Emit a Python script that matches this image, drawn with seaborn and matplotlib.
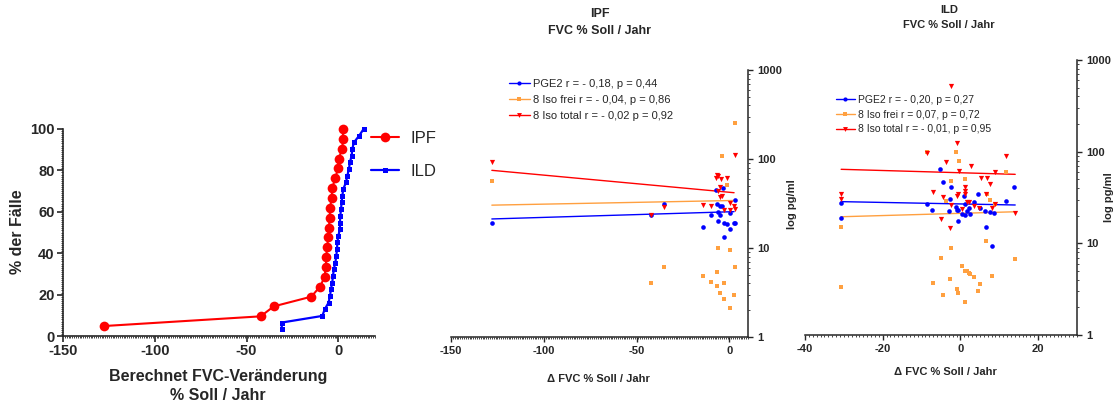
import numpy as np
import pandas as pd
import matplotlib
matplotlib.use("Agg")
import matplotlib.pyplot as plt
import seaborn as sns
from matplotlib.lines import Line2D
from matplotlib.ticker import MultipleLocator, LogLocator, NullFormatter, FixedLocator, FixedFormatter

# ---------------- data ----------------
# Panel 1: cumulative distribution of FVC change
cdf_ipf_x = [-127.9, -42.3, -35.2, -14.7, -10.0, -7.4, -6.9, -6.5, -6.2, -5.4, -5.1,
             -4.7, -4.5, -3.6, -3.4, -1.6, -0.2, 0.2, 2.2, 2.5, 2.5]
cdf_ipf_y = [4.8, 9.5, 14.3, 19.0, 23.8, 28.6, 33.3, 38.1, 42.9, 47.6, 52.4,
             57.1, 61.9, 66.7, 71.4, 76.2, 81.0, 85.7, 90.5, 95.2, 100.0]
cdf_ild_x = [-30.8, -30.8, -8.7, -7.4, -5.3, -4.5, -4.0, -3.3, -2.9, -2.4, -1.6,
             -1.1, -0.7, -0.5, 0.0, 0.9, 0.9, 1.1, 1.5, 1.8, 2.2, 2.7, 4.2, 4.9,
             5.8, 6.3, 7.3, 7.6, 8.5, 11.4, 13.8]
cdf_ild_y = [3.2, 6.5, 9.7, 12.9, 16.1, 19.4, 22.6, 25.8, 29.0, 32.3, 35.5,
             38.7, 41.9, 45.2, 48.4, 51.6, 54.8, 58.1, 61.3, 64.5, 67.7, 71.0,
             74.2, 77.4, 80.6, 83.9, 87.1, 90.3, 93.5, 96.8, 100.0]

# Panel 2: IPF
ipf_pge2_x = [-128, -42.2, -35.1, -14.4, -9.7, -7.2, -6.7, -6.3, -6.0, -5.2, -5.1,
              -4.2, -3.6, -2.9, -2.9, -1.4, 0.5, 0.5, 2.3, 2.9, 2.9]
ipf_pge2_y = [19.0, 23.4, 31.5, 17.3, 23.4, 44.3, 31.6, 20.0, 25.5, 29.8, 23.5,
              29.8, 47.0, 19.2, 13.3, 18.5, 16.3, 25.0, 19.0, 19.0, 35.0]
ipf_frei_x = [-128, -42.2, -35.0, -14.4, -9.7, -6.9, -6.7, -6.0, -5.2, -4.2, -2.9,
              -2.9, -1.4, 0.5, 0.5, 2.3, 2.9, 2.9]
ipf_frei_y = [56.9, 4.0, 6.1, 4.8, 4.2, 5.4, 3.7, 9.9, 3.1, 108, 4.0,
              2.7, 50.8, 9.4, 2.1, 3.0, 6.1, 255]
ipf_total_x = [-128, -42.2, -35.0, -14.4, -9.7, -7.2, -6.5, -6.3, -6.0, -5.2, -5.1,
               -4.5, -4.2, -2.9, -1.4, 0.5, 0.5, 2.3, 2.9, 2.9]
ipf_total_y = [93, 23.2, 29.0, 30.8, 29.5, 60.4, 65.3, 43.9, 65.0, 37.6, 48.3,
               59.8, 38.2, 26.8, 60.4, 31.9, 27.0, 29.8, 27.2, 110]
ipf_fit_x = [-128, 2.5]
ipf_fit_pge2 = [21.2, 25.6]
ipf_fit_frei = [30.3, 34.2]
ipf_fit_total = [74.6, 41.8]
ipf_labels = ["PGE2 r = - 0,18, p = 0,44",
              "8 Iso frei r = - 0,04, p = 0,86",
              "8 Iso total r = - 0,02 p = 0,92"]

# Panel 3: ILD
ild_pge2_x = [-30.8, -30.7, -8.5, -7.2, -5.3, -4.5, -2.9, -2.7, -2.5, -1.2, -0.9,
              -0.5, -0.7, 0.3, 1.1, 1.2, 1.0, 1.8, 2.3, 2.4, 3.4, 4.4, 5.1, 6.4,
              6.7, 7.5, 8.2, 8.7, 11.6, 13.9]
ild_pge2_y = [27.3, 18.8, 26.7, 23.1, 64.2, 46.7, 22.7, 30.2, 41.5, 24.7, 23.1,
              23.1, 17.7, 20.7, 20.4, 26.7, 33.1, 22.7, 24.3, 20.7, 28.5, 34.3, 24.1, 22.4,
              15.2, 22.0, 9.4, 21.6, 28.7, 40.9]
ild_frei_x = [-30.7, -30.7, -8.5, -7.1, -5.1, -4.4, -3.8, -2.8, -2.5, -2.3, -1.0,
              -0.6, -1.1, -0.4, 0.5, 1.1, 1.3, 1.2, 1.8, 2.3, 2.4, 3.5, 4.5, 5.1,
              6.5, 6.9, 7.7, 8.2, 8.9, 11.8, 14.1]
ild_frei_y = [15, 3.3, 98, 3.7, 7.0, 2.7, 29.2, 4.1, 8.9, 47.9, 3.2,
              2.9, 99, 79, 5.7, 5.0, 2.3, 50, 5.0, 4.8, 4.6, 4.3, 3.0, 3.6,
              10.7, 34.2, 29.5, 4.4, 26.6, 60.5, 6.8]
ild_total_x = [-30.7, -30.7, -8.5, -7.1, -5.1, -4.4, -3.8, -2.8, -2.5, -2.3, -1.0,
               -0.9, -0.6, -0.4, 0.5, 1.2, 1.2, 1.3, 1.8, 2.3, 2.6, 3.5, 4.7, 5.3,
               6.6, 6.9, 7.7, 8.2, 8.9, 8.9, 11.8, 14.1]
ild_total_y = [34.5, 30.7, 96, 36, 18.3, 32.3, 76.5, 14.7, 26.2, 525, 123,
               32.6, 34.8, 61, 23.5, 40.8, 34.5, 37.6, 28, 28, 69, 25.3, 24.5, 51.2,
               34.5, 52, 44, 24.3, 26.6, 60.5, 89, 21.4]
ild_fit_x = [-30.7, 14.1]
ild_fit_pge2 = [28.5, 26.2]
ild_fit_frei = [19.5, 22.1]
ild_fit_total = [64.2, 56.6]
ild_labels = ["PGE2 r = - 0,20, p = 0,27",
              "8 Iso frei r = 0,07, p = 0,72",
              "8 Iso total r = - 0,01, p = 0,95"]

# ---------------- style ----------------
sns.set_style("ticks")
plt.rcParams['font.family'] = ['Liberation Sans', 'DejaVu Sans']
plt.rcParams['axes.unicode_minus'] = False
NARROW = ['Liberation Sans Narrow', 'Liberation Sans', 'DejaVu Sans']

RED = '#FF0000'
BLUE = '#0000FF'
ORANGE = '#FFA040'
W, H = 1115, 409

fig = plt.figure(figsize=(W / 100, H / 100), dpi=100)

def fx(px):
    return px / W

def fy(py):
    return 1 - py / H

ax1 = fig.add_axes([fx(63), fy(336), 312 / W, 207 / H])
ax2 = fig.add_axes([fx(451), fy(337), 297 / W, 267 / H])
ax3 = fig.add_axes([fx(805), fy(335), 272 / W, 275 / H])

# ---------------- panel 1 ----------------
df_ipf = pd.DataFrame({'x': cdf_ipf_x, 'y': cdf_ipf_y})
df_ild = pd.DataFrame({'x': cdf_ild_x, 'y': cdf_ild_y})
sns.lineplot(data=df_ild, x='x', y='y', ax=ax1, color=BLUE, lw=1.6, marker='s',
             markersize=3.6, markeredgewidth=0, sort=False, estimator=None, clip_on=False)
sns.lineplot(data=df_ipf, x='x', y='y', ax=ax1, color=RED, lw=1.5, marker='o',
             markersize=7, markeredgewidth=0, sort=False, estimator=None, clip_on=False)
ax1.set_xlim(-150, 20)
ax1.set_ylim(0, 100)
ax1.set_xticks([-150, -100, -50, 0])
ax1.set_yticks([0, 20, 40, 60, 80, 100])
ax1.xaxis.set_minor_locator(MultipleLocator(1))
ax1.yaxis.set_minor_locator(MultipleLocator(1))
ax1.set_xlabel('')
ax1.set_ylabel('')
for s in ['top', 'right']:
    ax1.spines[s].set_visible(False)
for s in ['left', 'bottom']:
    ax1.spines[s].set_linewidth(1.2)
ax1.tick_params(axis='both', which='major', length=4, width=1.2, labelsize=10.5, pad=2)
ax1.tick_params(axis='both', which='minor', length=1.5, width=0.6)
for lab in ax1.get_xticklabels() + ax1.get_yticklabels():
    lab.set_fontweight('bold')

fig.text(fx(18), fy(232), '% der Fälle', rotation=90, ha='center', va='center',
         fontsize=11.5, fontweight='bold')
fig.text(fx(218), fy(377), 'Berechnet FVC-Veränderung', ha='center', va='center',
         fontsize=11.5, fontweight='bold')
fig.text(fx(218), fy(395), '% Soll / Jahr', ha='center', va='center',
         fontsize=11.5, fontweight='bold')

h1 = [Line2D([], [], color=RED, lw=1.5, marker='o', ms=7, mew=0),
      Line2D([], [], color=BLUE, lw=1.6, marker='s', ms=3.6, mew=0)]
fig.legend(h1, ['IPF', 'ILD'], loc='upper left', bbox_to_anchor=(fx(371), fy(131)),
           frameon=False, fontsize=12, handlelength=1.7, handletextpad=0.7,
           labelspacing=1.05, borderpad=0, borderaxespad=0)

# ---------------- scatter panels ----------------
def scatter_panel(ax, pge2_x, pge2_y, frei_x, frei_y, total_x, total_y,
                  fit_x, fit_pge2, fit_frei, fit_total, xlim, xticks):
    sns.scatterplot(x=frei_x, y=frei_y, ax=ax, color=ORANGE, marker='s', s=9,
                    linewidth=0, zorder=3)
    sns.scatterplot(x=pge2_x, y=pge2_y, ax=ax, color=BLUE, marker='o', s=11,
                    linewidth=0, zorder=4)
    sns.scatterplot(x=total_x, y=total_y, ax=ax, color=RED, marker='v', s=14,
                    linewidth=0, zorder=5)
    sns.lineplot(x=fit_x, y=fit_pge2, ax=ax, color=BLUE, lw=1.0, estimator=None)
    sns.lineplot(x=fit_x, y=fit_frei, ax=ax, color=ORANGE, lw=1.0, estimator=None)
    sns.lineplot(x=fit_x, y=fit_total, ax=ax, color=RED, lw=1.0, estimator=None)
    ax.set_yscale('log')
    ax.set_xlim(*xlim)
    ax.set_ylim(1, 1000)
    ax.set_xticks(xticks)
    ax.xaxis.set_minor_locator(MultipleLocator(1))
    ax.yaxis.set_major_locator(FixedLocator([1, 10, 100, 1000]))
    ax.yaxis.set_major_formatter(FixedFormatter(['1', '10', '100', '1000']))
    ax.yaxis.set_minor_locator(LogLocator(base=10, subs=np.arange(2, 10)))
    ax.yaxis.set_minor_formatter(NullFormatter())
    ax.yaxis.tick_right()
    ax.set_xlabel('')
    ax.set_ylabel('')
    for s in ['top', 'left']:
        ax.spines[s].set_visible(False)
    for s in ['right', 'bottom']:
        ax.spines[s].set_linewidth(1.1)
    ax.tick_params(axis='both', which='major', length=3.5, width=1.0, labelsize=8, pad=3)
    ax.tick_params(axis='both', which='minor', length=1.5, width=0.6)
    for lab in ax.get_xticklabels() + ax.get_yticklabels():
        lab.set_fontweight('bold')
        lab.set_family(NARROW)
    if ax.get_legend() is not None:
        ax.get_legend().remove()

scatter_panel(ax2, ipf_pge2_x, ipf_pge2_y, ipf_frei_x, ipf_frei_y, ipf_total_x, ipf_total_y,
              ipf_fit_x, ipf_fit_pge2, ipf_fit_frei, ipf_fit_total, (-150, 10), [-150, -100, -50, 0])
scatter_panel(ax3, ild_pge2_x, ild_pge2_y, ild_frei_x, ild_frei_y, ild_total_x, ild_total_y,
              ild_fit_x, ild_fit_pge2, ild_fit_frei, ild_fit_total, (-40, 30), [-40, -20, 0, 20])

def leg_handles():
    return [Line2D([], [], color=BLUE, lw=1.0, marker='o', ms=3, mew=0),
            Line2D([], [], color=ORANGE, lw=1.0, marker='s', ms=3, mew=0),
            Line2D([], [], color=RED, lw=1.0, marker='v', ms=3.5, mew=0)]

fig.legend(leg_handles(), ipf_labels, loc='upper left', bbox_to_anchor=(fx(509), fy(79)),
           frameon=False, fontsize=8, handlelength=1.85, handletextpad=0.35,
           labelspacing=0.52, borderpad=0, borderaxespad=0)
fig.legend(leg_handles(), ild_labels, loc='upper left', bbox_to_anchor=(fx(836), fy(95)),
           frameon=False, fontsize=7.5, handlelength=1.8, handletextpad=0.35,
           labelspacing=0.45, borderpad=0, borderaxespad=0)

# titles and labels
fig.text(fx(600), fy(14), 'IPF', ha='center', va='center', fontsize=9,
         fontweight='bold', family=NARROW)
fig.text(fx(600), fy(31), 'FVC % Soll / Jahr', ha='center', va='center', fontsize=9,
         fontweight='bold', family=NARROW)
fig.text(fx(949), fy(10), 'ILD', ha='center', va='center', fontsize=8,
         fontweight='bold', family=NARROW)
fig.text(fx(949), fy(25), 'FVC % Soll / Jahr', ha='center', va='center', fontsize=8,
         fontweight='bold', family=NARROW)

fig.text(fx(598), fy(379), 'Δ FVC % Soll / Jahr', ha='center', va='center', fontsize=8,
         fontweight='bold', family=NARROW)
fig.text(fx(945), fy(372), 'Δ FVC % Soll / Jahr', ha='center', va='center', fontsize=8,
         fontweight='bold', family=NARROW)
fig.text(fx(792), fy(204), 'log pg/ml', rotation=90, ha='center', va='center', fontsize=8,
         fontweight='bold', family=NARROW)
fig.text(fx(1109), fy(197), 'log pg/ml', rotation=90, ha='center', va='center', fontsize=8,
         fontweight='bold', family=NARROW)

fig.savefig('out.png', dpi=100)
